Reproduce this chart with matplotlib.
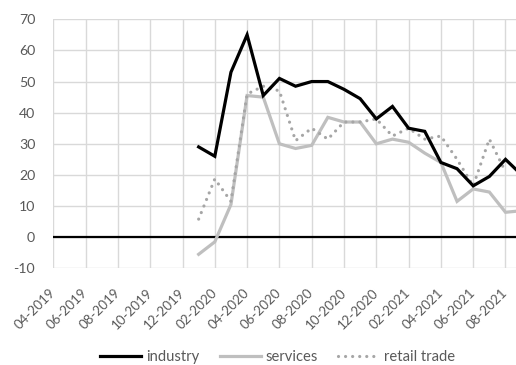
import numpy as np
import matplotlib
matplotlib.use("Agg")
import matplotlib.pyplot as plt

months = ["04-2019","05-2019","06-2019","07-2019","08-2019","09-2019","10-2019","11-2019","12-2019",
          "01-2020","02-2020","03-2020","04-2020","05-2020","06-2020","07-2020","08-2020","09-2020",
          "10-2020","11-2020","12-2020","01-2021","02-2021","03-2021","04-2021","05-2021","06-2021",
          "07-2021","08-2021","09-2021"]
nan = np.nan
industry = [nan]*9 + [29, 26, 53, 65, 45.5, 51, 48.5, 50, 50, 47.5, 44.5, 38, 42, 35, 34, 24, 22, 16.5, 19.5, 25, 20]
services = [nan]*9 + [-5.5, -1.5, 10.5, 45.5, 45, 30, 28.5, 29.5, 38.5, 37, 37, 30, 31.5, 30.5, 27, 24, 11.5, 15.5, 14.5, 8, 8.5]
retail = [nan]*9 + [5.8, 18.7, 11.5, 46, 48.5, 47, 31, 35, 31.5, 37, 37, 38, 32.5, 35, 31.5, 32.5, 25, 16.5, 31.5, 21, nan]
yticks = [-10, 0, 10, 20, 30, 40, 50, 60, 70]

W, H = 516, 365
fig = plt.figure(figsize=(W/100, H/100), dpi=100)
left = 53.3/W
bottom = (H-268.3)/H
top = (H-19.3)/H
ax = fig.add_axes([left, bottom, 1-left, top-bottom])

x = np.arange(len(months))
font = "Lato"
tc = "#595959"
fs = 10.2

ax.set_xlim(0, (516-53.3)/16.15)
ax.set_ylim(-10, 70)
for s in ax.spines.values():
    s.set_visible(False)
ax.set_yticks(yticks)
ax.set_xticks(x[::2])
ax.set_xticklabels(months[::2], rotation=45, ha="right", va="center", rotation_mode="anchor",
                   fontsize=9.6, color=tc, family=font)
ax.set_yticklabels([str(v) for v in yticks], fontsize=fs, color=tc, family=font)
ax.tick_params(axis="both", length=0)
ax.tick_params(axis="y", pad=13)
ax.tick_params(axis="x", pad=16)
ax.grid(True, color="#d9d9d9", linewidth=1.0)
ax.set_axisbelow(True)
ax.axhline(0, color="black", linewidth=1.6, zorder=2)

ax.plot(x, industry, color="black", linewidth=2.3, label="industry", zorder=5, solid_joinstyle="miter")
ax.plot(x, services, color="#bfbfbf", linewidth=2.3, label="services", zorder=3, solid_joinstyle="miter")
ax.plot(x, retail, color="#a6a6a6", linewidth=2.3, linestyle=(0, (0.01, 2.2)),
        dash_capstyle="round", label="retail trade", zorder=4)

leg = fig.legend(loc="center", bbox_to_anchor=(277.5/W, 8/H), ncol=3, frameon=False,
                 prop={"family": font, "size": 10.6}, handlelength=2.8, handletextpad=0.3,
                 columnspacing=1.4, borderaxespad=0)
for t in leg.get_texts():
    t.set_color(tc)

fig.savefig("out.png", dpi=100)
